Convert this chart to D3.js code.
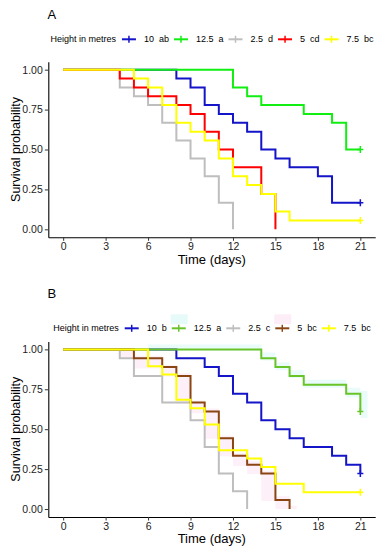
<!DOCTYPE html>
<html>
<head>
<meta charset="utf-8">
<script src="https://cdn.jsdelivr.net/npm/d3@7"></script>
<style>
  body { margin: 0; background: #fff; }
  text { font-family: "Liberation Sans", Arial, sans-serif; }
</style>
</head>
<body>
<div id="chart"></div>
<script>
// tick labels and groups
var days = [0, 3, 6, 9, 12, 15, 18, 21];
var probTicks = [0, 0.25, 0.5, 0.75, 1];
var heights = ['10', '12.5', '2.5', '5', '7.5'];
var lettersA = ['ab', 'a', 'd', 'cd', 'bc'];
var lettersB = ['b', 'a', 'c', 'bc', 'bc'];
var coloursA = ['#1414c8', '#11ee11', '#bebebe', '#ff0000', '#ffff00'];
var coloursB = ['#1414c8', '#69c42a', '#bebebe', '#8b4513', '#ffff00'];

// panel A : step times and survival values
var a10Time = [0, 8, 9, 10, 11, 12, 13, 14, 15, 16, 18, 19];
var a10Surv = [1, 0.944, 0.889, 0.778, 0.722, 0.667, 0.611, 0.5, 0.444, 0.389, 0.333, 0.167];
var a125Time = [0, 12, 13, 14, 17, 19, 20];
var a125Surv = [1, 0.889, 0.833, 0.778, 0.722, 0.667, 0.5];
var a25Time = [0, 4, 5, 6, 7, 8, 9, 10, 11, 12];
var a25Surv = [1, 0.889, 0.833, 0.778, 0.667, 0.556, 0.444, 0.333, 0.167, 0];
var a5Time = [0, 4, 5, 6, 8, 9, 10, 11, 12, 14, 15];
var a5Surv = [1, 0.944, 0.889, 0.833, 0.778, 0.722, 0.611, 0.5, 0.389, 0.222, 0];
var a75Time = [0, 5, 6, 7, 8, 9, 10, 11, 12, 13, 14, 15, 16];
var a75Surv = [1, 0.944, 0.889, 0.778, 0.667, 0.611, 0.556, 0.444, 0.333, 0.278, 0.222, 0.111, 0.056];
var endA = [21, 21, 12, 15, 21];

// panel B
var b10Time = [0, 8, 10, 11, 12, 13, 14, 15, 16, 17, 19, 20, 21];
var b10Surv = [1, 0.944, 0.889, 0.833, 0.722, 0.667, 0.556, 0.5, 0.444, 0.389, 0.333, 0.278, 0.222];
var b125Time = [0, 14, 15, 16, 17, 20, 21];
var b125Surv = [1, 0.944, 0.889, 0.833, 0.778, 0.722, 0.611];
var b25Time = [0, 4, 5, 7, 9, 10, 11, 12, 13];
var b25Surv = [1, 0.944, 0.833, 0.667, 0.556, 0.389, 0.222, 0.111, 0];
var b5Time = [0, 5, 7, 8, 9, 10, 11, 12, 13, 14, 15, 16];
var b5Surv = [1, 0.944, 0.889, 0.833, 0.667, 0.611, 0.444, 0.333, 0.278, 0.222, 0.056, 0];
var b75Time = [0, 6, 7, 8, 9, 10, 11, 13, 14, 15, 17];
var b75Surv = [1, 0.895, 0.842, 0.684, 0.632, 0.53, 0.368, 0.316, 0.263, 0.158, 0.105];
var endB = [21, 21, 13, 16, 21];

// faint bands in panel B
var b125BandTime = [6, 14, 15, 16, 17, 20, 21, 21.5];
var b125BandHi = [1.03, 0.98, 0.92, 0.87, 0.81, 0.76, 0.74, 0.74];
var b125BandLo = [0.99, 0.93, 0.87, 0.82, 0.76, 0.70, 0.57, 0.57];
var b5BandTime = [4, 5, 7, 8, 9, 10, 11, 12, 13, 14, 15, 16, 16.5];
var b5BandHi = [1.0, 0.96, 0.9, 0.85, 0.68, 0.63, 0.46, 0.35, 0.3, 0.24, 0.08, 0.02, 0.02];
var b5BandLo = [0.94, 0.88, 0.83, 0.66, 0.6, 0.44, 0.33, 0.27, 0.22, 0.05, 0.0, 0.0, 0.0];

var svg = d3.select('#chart').append('svg').
attr('width', 380).
attr('height', 550).
style('background', '#fff');

var x = d3.scaleLinear().domain([-1.05, 22.05]).range([48.3, 375.2]);

function stepPoints(times, surv, end) {
  var pts = times.map(function (t, i) {return [t, surv[i]];});
  pts.push([end, surv[surv.length - 1]]);
  return pts;
}

function drawPanel(p) {
  var y = d3.scaleLinear().domain([-0.05, 1.05]).range([p.top + 175.6, p.top]);
  var g = svg.append('g');

  var line = d3.line().
  curve(d3.curveStepAfter).
  x(function (d) {return x(d[0]);}).
  y(function (d) {return y(d[1]);});

  var area = d3.area().
  curve(d3.curveStepAfter).
  x(function (d) {return x(d.t);}).
  y0(function (d) {return y(d.lo);}).
  y1(function (d) {return y(d.hi);});

  //confidence bands, very faint
  p.bands.forEach(function (b) {
    var rows = b.time.map(function (t, i) {return { t: t, hi: b.hi[i], lo: b.lo[i] };});
    g.append('path').
    attr('d', area(rows)).
    attr('fill', b.fill).
    attr('stroke', 'none');
  });

  //axes
  var xAxis = g.append('g').
  attr('transform', 'translate(0,' + (p.top + 175.6) + ')').
  call(d3.axisBottom(x).tickValues(days).tickSize(3.5).tickSizeOuter(0).tickPadding(2));

  var yAxis = g.append('g').
  attr('transform', 'translate(48.3,0)').
  call(d3.axisLeft(y).tickValues(probTicks).tickFormat(d3.format('.2f')).
  tickSize(3.5).tickSizeOuter(0).tickPadding(2));

  [xAxis, yAxis].forEach(function (a) {
    a.select('.domain').attr('stroke', '#000').attr('stroke-width', 1.1);
    a.selectAll('.tick line').attr('stroke', '#333');
    a.selectAll('.tick text').
    attr('fill', '#222').
    style('font-size', '10.5px').
    style('font-family', '"Liberation Sans", Arial, sans-serif');
  });

  //survival curves
  p.series.forEach(function (s, i) {
    g.append('path').
    attr('d', line(stepPoints(s.time, s.surv, s.end))).
    attr('fill', 'none').
    attr('stroke', p.colours[i]).
    attr('stroke-width', 2);
  });

  //censor marks at the end of follow-up
  p.series.forEach(function (s, i) {
    var last = s.surv[s.surv.length - 1];
    if (last > 0) {
      g.append('path').
      attr('d', 'M-3,0H3M0,-3.5V3.5').
      attr('transform', 'translate(' + x(s.end) + ',' + y(last) + ')').
      attr('stroke', p.colours[i]).
      attr('stroke-width', 1.5);
    }
  });

  //titles
  g.append('text').
  attr('x', 47.5).
  attr('y', p.titleY).
  style('font-size', '13px').
  text(p.title);

  g.append('text').
  attr('x', 211.7).
  attr('y', p.top + 201.8).
  attr('text-anchor', 'middle').
  style('font-size', '13px').
  text('Time (days)');

  g.append('text').
  attr('transform', 'translate(19.5,' + y(0.5) + ') rotate(-90)').
  attr('text-anchor', 'middle').
  style('font-size', '12.5px').
  text('Survival probability');

  //legend
  var lg = g.append('g');
  var head = lg.append('text').
  attr('dy', '0.35em').
  style('font-size', '9px').
  text('Height in metres');
  var cursor = head.node().getComputedTextLength() + 6;

  heights.forEach(function (h, i) {
    if (p.keyFill[i]) {
      lg.append('rect').
      attr('x', cursor - 1).
      attr('y', -14).
      attr('width', 17).
      attr('height', 10).
      attr('fill', p.keyFill[i]);
    }
    lg.append('line').
    attr('x1', cursor).attr('x2', cursor + 14).
    attr('y1', 0).attr('y2', 0).
    attr('stroke', p.colours[i]).
    attr('stroke-width', 2);
    lg.append('line').
    attr('x1', cursor + 7).attr('x2', cursor + 7).
    attr('y1', -3.5).attr('y2', 3.5).
    attr('stroke', p.colours[i]).
    attr('stroke-width', 1.5);
    var lab = lg.append('text').
    attr('x', cursor + 22).
    attr('dy', '0.35em').
    style('font-size', '9px').
    style('white-space', 'pre').
    text(h + '  ' + p.letters[i]);
    cursor = cursor + 22 + lab.node().getComputedTextLength() + 5;
  });
  var total = cursor - 5;
  lg.attr('transform', 'translate(' + (212 - total / 2) + ',' + p.legendY + ')');
}

drawPanel({
  title: 'A', titleY: 18.5, legendY: 39.3, top: 61.7,
  colours: coloursA, letters: lettersA, keyFill: [null, null, null, null, null],
  series: [
  { time: a10Time, surv: a10Surv, end: endA[0] },
  { time: a125Time, surv: a125Surv, end: endA[1] },
  { time: a25Time, surv: a25Surv, end: endA[2] },
  { time: a5Time, surv: a5Surv, end: endA[3] },
  { time: a75Time, surv: a75Surv, end: endA[4] }],
  bands: [] });

drawPanel({
  title: 'B', titleY: 297.9, legendY: 328.3, top: 341.4,
  colours: coloursB, letters: lettersB, keyFill: [null, '#e6fbf9', null, '#fcedf6', null],
  series: [
  { time: b10Time, surv: b10Surv, end: endB[0] },
  { time: b125Time, surv: b125Surv, end: endB[1] },
  { time: b25Time, surv: b25Surv, end: endB[2] },
  { time: b5Time, surv: b5Surv, end: endB[3] },
  { time: b75Time, surv: b75Surv, end: endB[4] }],
  bands: [
  { time: b125BandTime, hi: b125BandHi, lo: b125BandLo, fill: '#eafcfa' },
  { time: b5BandTime, hi: b5BandHi, lo: b5BandLo, fill: '#fdf0f8' }] });
</script>
</body>
</html>
